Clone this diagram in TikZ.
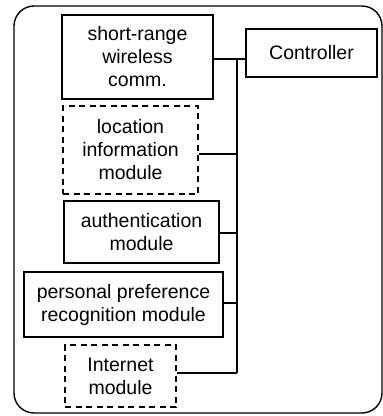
\documentclass[tikz,border=0pt]{standalone}
\usepackage{fontspec}
\setmainfont{Liberation Sans}
\begin{document}
\begin{tikzpicture}[x=1pt,y=-1pt,
  every node/.style={font=\fontsize{19.5}{23}\selectfont, align=center, inner sep=0pt},
  modbox/.style={draw, line width=1.3pt},
  optbox/.style={draw, line width=1.5pt, dash pattern=on 6pt off 4.5pt},
  link/.style={line width=2pt}]
\useasboundingbox (0,0) rectangle (383,416);
% housing
\draw[line width=1.4pt, rounded corners=20pt] (14,6) rectangle (382,413);
% modules
\node[modbox, minimum width=151pt, minimum height=84pt] (srw) at (137.5,57) {short-range\\wireless\\comm.};
\node[modbox, minimum width=131pt, minimum height=48pt] (ctrl) at (311.5,53) {Controller};
\node[optbox, minimum width=135pt, minimum height=88pt] (loc) at (130.5,150) {location\\information\\module};
\node[modbox, minimum width=155pt, minimum height=62pt] (auth) at (141.5,232) {authentication\\module};
\node[modbox, minimum width=199pt, minimum height=65pt] (pref) at (123.5,304.5) {personal preference\\recognition module};
\node[optbox, minimum width=111pt, minimum height=62pt] (inet) at (120.5,376) {Internet\\module};
% bus
\coordinate (bustop) at (237,59);
\coordinate (busbot) at (237,373);
\draw[link] (srw.east |- bustop) -- (ctrl.west |- bustop);
\draw[link] (bustop) -- (busbot);
\draw[link] (loc.east |- 0,154) -- (bustop |- 0,154);
\draw[link] (auth.east |- 0,233) -- (bustop |- 0,233);
\draw[link] (pref.east |- 0,303) -- (bustop |- 0,303);
\draw[link] (inet.east |- busbot) -- (busbot);
\end{tikzpicture}
\end{document}
